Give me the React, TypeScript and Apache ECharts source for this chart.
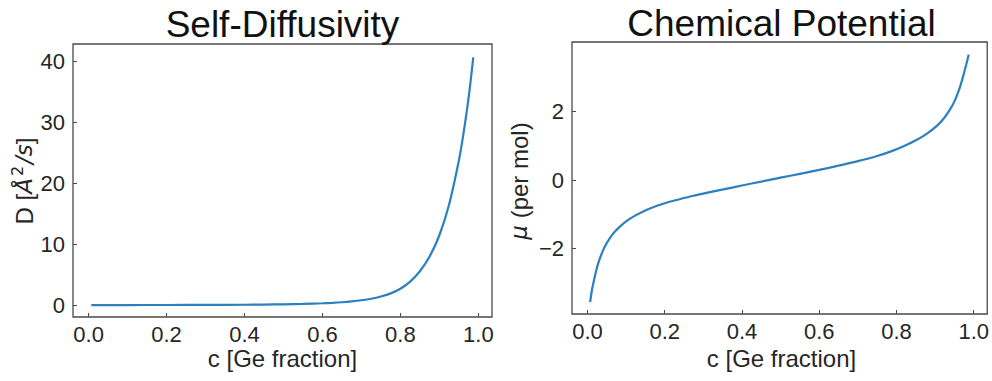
import React, { useEffect, useRef } from "react";
import * as echarts from "echarts";

// Self-diffusivity panel
const cD = [0.007, 0.1, 0.2, 0.3, 0.4, 0.45, 0.5, 0.55, 0.6, 0.625, 0.65, 0.675, 0.7, 0.725, 0.75, 0.775, 0.8, 0.825, 0.85, 0.875, 0.9, 0.925, 0.95, 0.9625, 0.975, 0.987];
const dValues = [0.005, 0.01, 0.017, 0.03, 0.06, 0.087, 0.13, 0.195, 0.3, 0.37, 0.47, 0.61, 0.79, 1.04, 1.41, 1.92, 2.69, 3.86, 5.55, 7.97, 11.45, 16.5, 23.7, 28.4, 34.0, 40.6];

// Chemical potential panel
const cMu = [0.007, 0.011, 0.0154, 0.0218, 0.0282, 0.039, 0.0498, 0.0669, 0.084, 0.1055, 0.1269, 0.1526, 0.1782, 0.2082, 0.2381, 0.2744, 0.3107, 0.355, 0.4, 0.45, 0.5, 0.55, 0.6, 0.65, 0.7, 0.75, 0.786, 0.82, 0.854, 0.88, 0.906, 0.923, 0.94, 0.951, 0.9615, 0.9679, 0.9743, 0.9807, 0.9871];
const muValues = [-3.557, -3.238, -2.994, -2.674, -2.414, -2.083, -1.835, -1.554, -1.354, -1.16, -1.014, -0.869, -0.754, -0.647, -0.559, -0.458, -0.368, -0.265, -0.158, -0.045, 0.07, 0.182, 0.295, 0.42, 0.55, 0.7, 0.835, 0.991, 1.179, 1.361, 1.594, 1.799, 2.078, 2.312, 2.609, 2.836, 3.093, 3.364, 3.652];

const xTicks = [0, 0.2, 0.4, 0.6, 0.8, 1.0];
const dTicks = [0, 10, 20, 30, 40];
const muTicks = [-2, 0, 2];

const titles = ["Self-Diffusivity", "Chemical Potential"];
const xName = "c [Ge fraction]";

const FONT = "'Liberation Sans', Arial, sans-serif";
const FRAME = "#4a4a4a";
const LABEL = "#262626";
const LINE = "#2b80bf";

export default function App() {
  const ref = useRef<HTMLDivElement>(null);
  useEffect(() => {
    if (!ref.current) return;
    const chart = echarts.init(ref.current, undefined, { renderer: "svg" });
    const axisCommon = (isX: boolean) => ({
      type: "value",
      axisLine: { show: false, onZero: false },
      splitLine: { show: false },
      axisTick: { show: true, inside: true, length: 4, lineStyle: { color: FRAME, width: 1 } },
      axisLabel: {
        show: true,
        fontFamily: FONT,
        fontSize: 22,
        color: LABEL,
        margin: isX ? 6 : 8,
      },
    });
    const option: any = {
      animation: false,
      backgroundColor: "#ffffff",
      grid: [
        { left: 73, top: 44, width: 419, height: 273, show: true, borderColor: FRAME, borderWidth: 1.3, backgroundColor: "transparent" },
        { left: 572, top: 42, width: 419, height: 272, show: true, borderColor: FRAME, borderWidth: 1.3, backgroundColor: "transparent" },
      ],
      xAxis: [0, 1].map((i) => {
        const a: any = axisCommon(true);
        a.gridIndex = i;
        a.min = -0.04;
        a.max = 1.035;
        a.axisTick.customValues = xTicks;
        a.axisLabel.customValues = xTicks;
        a.axisLabel.formatter = (v: number) => v.toFixed(1);
        return a;
      }),
      yAxis: [
        (() => {
          const a: any = axisCommon(false);
          a.gridIndex = 0;
          a.min = -1.95;
          a.max = 42.8;
          a.axisTick.customValues = dTicks;
          a.axisLabel.customValues = dTicks;
          a.axisLabel.formatter = (v: number) => String(v);
          return a;
        })(),
        (() => {
          const a: any = axisCommon(false);
          a.gridIndex = 1;
          a.min = -3.9;
          a.max = 4.02;
          a.axisTick.customValues = muTicks;
          a.axisLabel.customValues = muTicks;
          a.axisLabel.formatter = (v: number) => String(v).replace("-", "\u2212");
          return a;
        })(),
      ],
      series: [
        {
          type: "line",
          xAxisIndex: 0,
          yAxisIndex: 0,
          data: cD.map((c, i) => [c, dValues[i]]),
          showSymbol: false,
          smooth: 0.3,
          lineStyle: { color: LINE, width: 2.2 },
          itemStyle: { color: LINE },
        },
        {
          type: "line",
          xAxisIndex: 1,
          yAxisIndex: 1,
          data: cMu.map((c, i) => [c, muValues[i]]),
          showSymbol: false,
          smooth: 0.3,
          lineStyle: { color: LINE, width: 2.2 },
          itemStyle: { color: LINE },
        },
      ],
      graphic: [
        {
          type: "text",
          x: 282.5,
          y: 24.5,
          style: { text: titles[0], fontFamily: FONT, fontSize: 37, fill: "#111111", align: "center", verticalAlign: "middle" },
        },
        {
          type: "text",
          x: 781.5,
          y: 23,
          style: { text: titles[1], fontFamily: FONT, fontSize: 37, fill: "#111111", align: "center", verticalAlign: "middle" },
        },
        {
          type: "text",
          x: 282.5,
          y: 358.5,
          style: { text: xName, fontFamily: FONT, fontSize: 24, fill: LABEL, align: "center", verticalAlign: "middle" },
        },
        {
          type: "text",
          x: 781.5,
          y: 358.5,
          style: { text: xName, fontFamily: FONT, fontSize: 24, fill: LABEL, align: "center", verticalAlign: "middle" },
        },
        {
          type: "text",
          x: 24,
          y: 181,
          rotation: Math.PI / 2,
          style: {
            text: "{n|D [}{i|Å}{sup|2}{i|/s}{n|]}",
            align: "center",
            verticalAlign: "middle",
            fill: LABEL,
            rich: {
              n: { fontFamily: FONT, fontSize: 24, fill: LABEL, lineHeight: 30 },
              i: { fontFamily: "'DejaVu Sans', sans-serif", fontStyle: "italic", fontSize: 23, fill: LABEL, lineHeight: 30 },
              sup: { fontFamily: "'DejaVu Sans', sans-serif", fontSize: 16, fill: LABEL, lineHeight: 18, verticalAlign: "top", padding: [0, 2, 0, 2] },
            },
          },
        },
        {
          type: "text",
          x: 519,
          y: 181,
          rotation: Math.PI / 2,
          style: {
            text: "{i|μ}{n| (per mol)}",
            align: "center",
            verticalAlign: "middle",
            fill: LABEL,
            rich: {
              n: { fontFamily: FONT, fontSize: 24, fill: LABEL, lineHeight: 30 },
              i: { fontFamily: "'DejaVu Sans', sans-serif", fontStyle: "italic", fontSize: 23, fill: LABEL, lineHeight: 30 },
            },
          },
        },
      ],
    };
    chart.setOption(option);
    return () => chart.dispose();
  }, []);
  return (
    <div
      ref={ref}
      style={{ position: "fixed", left: 0, top: 0, width: 992, height: 381 }}
    />
  );
}
